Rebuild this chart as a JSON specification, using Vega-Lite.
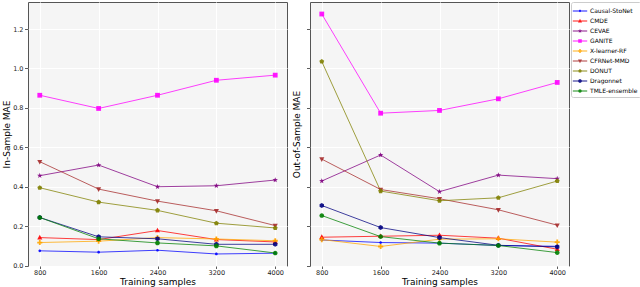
{
  "$schema": "https://vega.github.io/schema/vega-lite/v6.json",
  "padding": {"left": 1, "top": 1, "right": 0, "bottom": 0},
  "background": "white",
  "params": [
    {"name": "legPaths", "value": {
      "Causal-StoNet": "M-1.2,-0.07H1.2V0.07H-1.2ZM0.2,0A0.2,0.2 0 1,1 -0.2,0A0.2,0.2 0 1,1 0.2,0Z",
      "CMDE": "M-1.2,-0.07H1.2V0.07H-1.2ZM0,-0.36L0.33,0.23L-0.33,0.23Z",
      "CEVAE": "M-1.2,-0.07H1.2V0.07H-1.2ZM0,-0.36L0.087,-0.118L0.349,-0.113L0.139,0.046L0.215,0.297L0,0.146L-0.215,0.297L-0.139,0.046L-0.349,-0.113L-0.087,-0.118Z",
      "GANITE": "M-1.2,-0.07H1.2V0.07H-1.2ZM-0.3,-0.3H0.3V0.3H-0.3Z",
      "X-learner-RF": "M-1.2,-0.07H1.2V0.07H-1.2ZM-0.12,-0.33H0.12V-0.12H0.33V0.12H0.12V0.33H-0.12V0.12H-0.33V-0.12H-0.12Z",
      "CFRNet-MMD": "M-1.2,-0.07H1.2V0.07H-1.2ZM-0.33,-0.23L0.33,-0.23L0,0.36Z",
      "DONUT": "M-1.2,-0.07H1.2V0.07H-1.2ZM0,-0.33L0.312,-0.102L0.193,0.266L-0.193,0.266L-0.312,-0.102Z",
      "Dragonnet": "M-1.2,-0.07H1.2V0.07H-1.2ZM0,-0.33L0.284,-0.164L0.284,0.164L0,0.33L-0.284,0.164L-0.284,-0.164Z",
      "TMLE-ensemble": "M-1.2,-0.07H1.2V0.07H-1.2ZM0.29,0A0.29,0.29 0 1,1 -0.29,0A0.29,0.29 0 1,1 0.29,0Z"
    }}
  ],
  "config": {
    "font": "DejaVu Sans",
    "view": {"fill": "#f5f5f5", "stroke": "#555555", "strokeWidth": 1},
    "axis": {"grid": true, "gridColor": "#ffffff", "gridWidth": 1, "domain": false, "tickColor": "#333333", "tickSize": 3.5, "tickWidth": 0.8, "labelFontSize": 6.5, "labelColor": "#222222", "titleFontSize": 9, "titleFontWeight": "normal", "titleColor": "#000000", "labelPadding": 1.5},
    "axisX": {"titlePadding": 2, "tickSize": 2.5, "labelPadding": 0.5},
    "legend": {"orient": "right", "offset": 1, "padding": 3, "labelFontSize": 6, "labelColor": "#000000", "rowPadding": 1, "symbolSize": 144, "labelOffset": 4, "strokeColor": "#cccccc", "fillColor": "#ffffff", "cornerRadius": 2, "symbolStrokeWidth": 0, "symbolOpacity": 0.9},
    "concat": {"spacing": 3}
  },
  "datasets": {
    "ins": [
      {"method": "Causal-StoNet", "n": 800, "mae": 0.075}, {"method": "Causal-StoNet", "n": 1600, "mae": 0.068}, {"method": "Causal-StoNet", "n": 2400, "mae": 0.078}, {"method": "Causal-StoNet", "n": 3200, "mae": 0.059}, {"method": "Causal-StoNet", "n": 4000, "mae": 0.063},
      {"method": "CMDE", "n": 800, "mae": 0.142}, {"method": "CMDE", "n": 1600, "mae": 0.132}, {"method": "CMDE", "n": 2400, "mae": 0.178}, {"method": "CMDE", "n": 3200, "mae": 0.132}, {"method": "CMDE", "n": 4000, "mae": 0.12},
      {"method": "CEVAE", "n": 800, "mae": 0.456}, {"method": "CEVAE", "n": 1600, "mae": 0.51}, {"method": "CEVAE", "n": 2400, "mae": 0.4}, {"method": "CEVAE", "n": 3200, "mae": 0.405}, {"method": "CEVAE", "n": 4000, "mae": 0.434},
      {"method": "GANITE", "n": 800, "mae": 0.864}, {"method": "GANITE", "n": 1600, "mae": 0.797}, {"method": "GANITE", "n": 2400, "mae": 0.864}, {"method": "GANITE", "n": 3200, "mae": 0.94}, {"method": "GANITE", "n": 4000, "mae": 0.966},
      {"method": "X-learner-RF", "n": 800, "mae": 0.117}, {"method": "X-learner-RF", "n": 1600, "mae": 0.124}, {"method": "X-learner-RF", "n": 2400, "mae": 0.142}, {"method": "X-learner-RF", "n": 3200, "mae": 0.135}, {"method": "X-learner-RF", "n": 4000, "mae": 0.126},
      {"method": "CFRNet-MMD", "n": 800, "mae": 0.527}, {"method": "CFRNet-MMD", "n": 1600, "mae": 0.388}, {"method": "CFRNet-MMD", "n": 2400, "mae": 0.327}, {"method": "CFRNet-MMD", "n": 3200, "mae": 0.278}, {"method": "CFRNet-MMD", "n": 4000, "mae": 0.203},
      {"method": "DONUT", "n": 800, "mae": 0.395}, {"method": "DONUT", "n": 1600, "mae": 0.322}, {"method": "DONUT", "n": 2400, "mae": 0.28}, {"method": "DONUT", "n": 3200, "mae": 0.215}, {"method": "DONUT", "n": 4000, "mae": 0.191},
      {"method": "Dragonnet", "n": 800, "mae": 0.244}, {"method": "Dragonnet", "n": 1600, "mae": 0.146}, {"method": "Dragonnet", "n": 2400, "mae": 0.136}, {"method": "Dragonnet", "n": 3200, "mae": 0.108}, {"method": "Dragonnet", "n": 4000, "mae": 0.108},
      {"method": "TMLE-ensemble", "n": 800, "mae": 0.244}, {"method": "TMLE-ensemble", "n": 1600, "mae": 0.136}, {"method": "TMLE-ensemble", "n": 2400, "mae": 0.115}, {"method": "TMLE-ensemble", "n": 3200, "mae": 0.1}, {"method": "TMLE-ensemble", "n": 4000, "mae": 0.064}
    ],
    "oos": [
      {"method": "Causal-StoNet", "n": 800, "mae": 0.13}, {"method": "Causal-StoNet", "n": 1600, "mae": 0.117}, {"method": "Causal-StoNet", "n": 2400, "mae": 0.114}, {"method": "Causal-StoNet", "n": 3200, "mae": 0.102}, {"method": "Causal-StoNet", "n": 4000, "mae": 0.098},
      {"method": "CMDE", "n": 800, "mae": 0.144}, {"method": "CMDE", "n": 1600, "mae": 0.149}, {"method": "CMDE", "n": 2400, "mae": 0.154}, {"method": "CMDE", "n": 3200, "mae": 0.139}, {"method": "CMDE", "n": 4000, "mae": 0.083},
      {"method": "CEVAE", "n": 800, "mae": 0.429}, {"method": "CEVAE", "n": 1600, "mae": 0.561}, {"method": "CEVAE", "n": 2400, "mae": 0.375}, {"method": "CEVAE", "n": 3200, "mae": 0.459}, {"method": "CEVAE", "n": 4000, "mae": 0.441},
      {"method": "GANITE", "n": 800, "mae": 1.276}, {"method": "GANITE", "n": 1600, "mae": 0.773}, {"method": "GANITE", "n": 2400, "mae": 0.787}, {"method": "GANITE", "n": 3200, "mae": 0.846}, {"method": "GANITE", "n": 4000, "mae": 0.929},
      {"method": "X-learner-RF", "n": 800, "mae": 0.132}, {"method": "X-learner-RF", "n": 1600, "mae": 0.097}, {"method": "X-learner-RF", "n": 2400, "mae": 0.134}, {"method": "X-learner-RF", "n": 3200, "mae": 0.136}, {"method": "X-learner-RF", "n": 4000, "mae": 0.119},
      {"method": "CFRNet-MMD", "n": 800, "mae": 0.54}, {"method": "CFRNet-MMD", "n": 1600, "mae": 0.386}, {"method": "CFRNet-MMD", "n": 2400, "mae": 0.339}, {"method": "CFRNet-MMD", "n": 3200, "mae": 0.283}, {"method": "CFRNet-MMD", "n": 4000, "mae": 0.205},
      {"method": "DONUT", "n": 800, "mae": 1.035}, {"method": "DONUT", "n": 1600, "mae": 0.378}, {"method": "DONUT", "n": 2400, "mae": 0.329}, {"method": "DONUT", "n": 3200, "mae": 0.344}, {"method": "DONUT", "n": 4000, "mae": 0.429},
      {"method": "Dragonnet", "n": 800, "mae": 0.305}, {"method": "Dragonnet", "n": 1600, "mae": 0.193}, {"method": "Dragonnet", "n": 2400, "mae": 0.142}, {"method": "Dragonnet", "n": 3200, "mae": 0.103}, {"method": "Dragonnet", "n": 4000, "mae": 0.095},
      {"method": "TMLE-ensemble", "n": 800, "mae": 0.254}, {"method": "TMLE-ensemble", "n": 1600, "mae": 0.147}, {"method": "TMLE-ensemble", "n": 2400, "mae": 0.114}, {"method": "TMLE-ensemble", "n": 3200, "mae": 0.102}, {"method": "TMLE-ensemble", "n": 4000, "mae": 0.066}
    ]
  },
  "hconcat": [
    {
      "width": 259,
      "height": 264,
      "data": {"name": "ins"},
      "layer": [
        {
          "mark": {"type": "line", "strokeWidth": 1, "opacity": 0.75},
          "encoding": {
            "x": {"field": "n", "type": "quantitative", "scale": {"domain": [640, 4160], "nice": false, "zero": false}, "axis": {"values": [800, 1600, 2400, 3200, 4000], "format": "d", "title": "Training samples"}},
            "y": {"field": "mae", "type": "quantitative", "scale": {"domain": [-0.002, 1.337], "nice": false, "zero": false}, "axis": {"values": [0, 0.2, 0.4, 0.6, 0.8, 1.0, 1.2], "format": ".1f", "title": "In-Sample MAE", "titlePadding": 1.5}},
            "color": {"field": "method", "type": "nominal", "scale": {"domain": ["Causal-StoNet", "CMDE", "CEVAE", "GANITE", "X-learner-RF", "CFRNet-MMD", "DONUT", "Dragonnet", "TMLE-ensemble"], "range": ["#0000ff", "#ff0000", "#800080", "#ff00ff", "#ffa500", "#a52a2a", "#808000", "#000080", "#008000"]}, "legend": {"title": null, "symbolType": {"expr": "legPaths[datum.value]"}}}
          }
        },
        {
          "mark": {"type": "point", "filled": true, "size": 36, "opacity": 0.9},
          "encoding": {
            "x": {"field": "n", "type": "quantitative"},
            "y": {"field": "mae", "type": "quantitative"},
            "color": {"field": "method", "type": "nominal", "legend": {"title": null, "symbolType": {"expr": "legPaths[datum.value]"}}},
            "shape": {"field": "method", "type": "nominal", "scale": {"domain": ["Causal-StoNet", "CMDE", "CEVAE", "GANITE", "X-learner-RF", "CFRNet-MMD", "DONUT", "Dragonnet", "TMLE-ensemble", "_"], "range": ["M0.45,0A0.45,0.45 0 1,1 -0.45,0A0.45,0.45 0 1,1 0.45,0Z", "M0,-0.95L0.85,0.6L-0.85,0.6Z", "M0,-0.95L0.223,-0.307L0.904,-0.294L0.361,0.117L0.558,0.769L0,0.38L-0.558,0.769L-0.361,0.117L-0.904,-0.294L-0.223,-0.307Z", "M-0.8,-0.8H0.8V0.8H-0.8Z", "M-0.3,-0.85H0.3V-0.3H0.85V0.3H0.3V0.85H-0.3V0.3H-0.85V-0.3H-0.3Z", "M-0.85,-0.6L0.85,-0.6L0,0.95Z", "M0,-0.85L0.808,-0.263L0.5,0.688L-0.5,0.688L-0.808,-0.263Z", "M0,-0.85L0.736,-0.425L0.736,0.425L0,0.85L-0.736,0.425L-0.736,-0.425Z", "M0.78,0A0.78,0.78 0 1,1 -0.78,0A0.78,0.78 0 1,1 0.78,0Z", "circle"]}, "legend": null}
          }
        }
      ]
    },
    {
      "width": 259,
      "height": 264,
      "data": {"name": "oos"},
      "layer": [
        {
          "mark": {"type": "line", "strokeWidth": 1, "opacity": 0.75},
          "encoding": {
            "x": {"field": "n", "type": "quantitative", "scale": {"domain": [640, 4160], "nice": false, "zero": false}, "axis": {"values": [800, 1600, 2400, 3200, 4000], "format": "d", "title": "Training samples"}},
            "y": {"field": "mae", "type": "quantitative", "scale": {"domain": [-0.002, 1.337], "nice": false, "zero": false}, "axis": {"values": [0, 0.2, 0.4, 0.6, 0.8, 1.0, 1.2], "labels": false, "title": "Out-of-Sample MAE", "titlePadding": 4.7}},
            "color": {"field": "method", "type": "nominal", "legend": {"title": null, "symbolType": {"expr": "legPaths[datum.value]"}}}
          }
        },
        {
          "mark": {"type": "point", "filled": true, "size": 36, "opacity": 0.9},
          "encoding": {
            "x": {"field": "n", "type": "quantitative"},
            "y": {"field": "mae", "type": "quantitative"},
            "color": {"field": "method", "type": "nominal", "legend": {"title": null, "symbolType": {"expr": "legPaths[datum.value]"}}},
            "shape": {"field": "method", "type": "nominal", "legend": null}
          }
        }
      ]
    }
  ]
}
